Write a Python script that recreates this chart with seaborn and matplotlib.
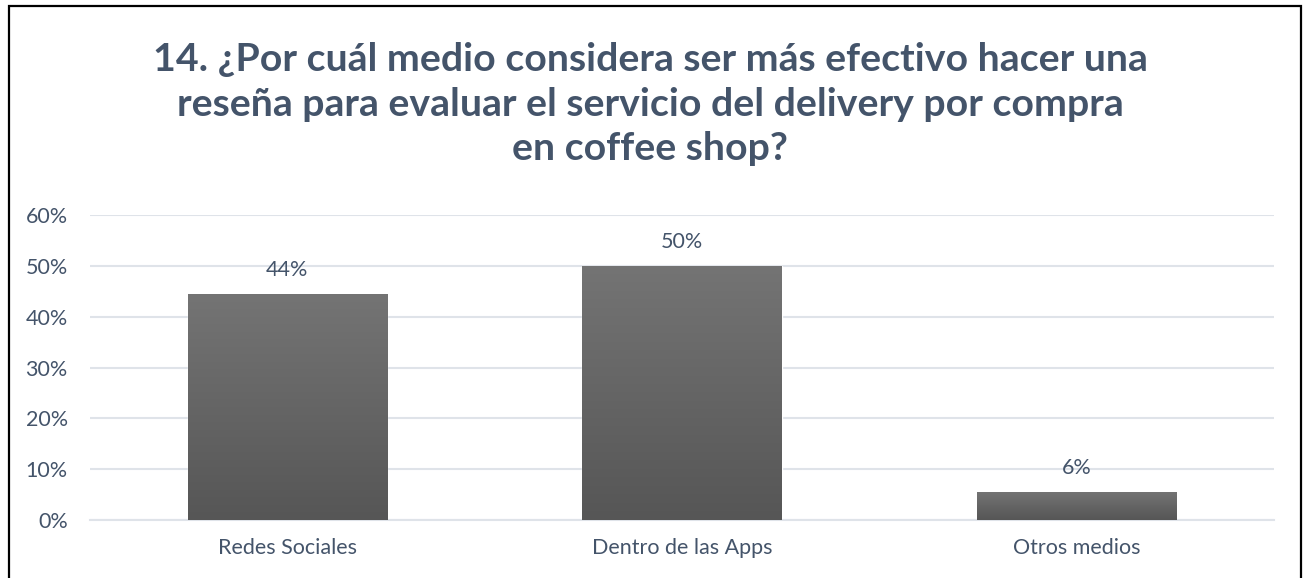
import matplotlib
matplotlib.use("Agg")
import matplotlib.pyplot as plt
import numpy as np
import pandas as pd
import seaborn as sns
from matplotlib.patches import Rectangle
from matplotlib.ticker import PercentFormatter, FixedLocator

# Survey answers (share of respondents)
categories = ["Redes Sociales", "Dentro de las Apps", "Otros medios"]
shares = [0.444, 0.500, 0.056]
y_ticks = [0.0, 0.1, 0.2, 0.3, 0.4, 0.5, 0.6]
title = ("14. ¿Por cuál medio considera ser más efectivo hacer una\n"
         "reseña para evaluar el servicio del delivery por compra\n"
         "en coffee shop?")

TEXT = "#44546A"
GRID = "#DFE3E9"
FONT = ["Lato", "DejaVu Sans"]

sns.set_theme(style="white")
plt.rcParams["font.family"] = FONT

W, H = 1303, 578
fig = plt.figure(figsize=(W / 100, H / 100), dpi=100)
ax = fig.add_axes([90 / W, 1 - 520 / H, (1274 - 90) / W, (520 - 215) / H])

df = pd.DataFrame({"medio": categories, "share": shares})
sns.barplot(data=df, x="medio", y="share", color="#666666", width=0.505,
            saturation=1, ax=ax, zorder=2)

ax.set_ylim(0, 0.6)
ax.set_xlim(-0.5, len(categories) - 0.5)
ax.yaxis.set_major_locator(FixedLocator(y_ticks))
ax.yaxis.set_major_formatter(PercentFormatter(1.0, decimals=0))
ax.grid(axis="y", color=GRID, linewidth=1.5, zorder=0)
ax.set_axisbelow(True)
for s in ax.spines.values():
    s.set_visible(False)
ax.spines["bottom"].set_visible(True)
ax.spines["bottom"].set_color(GRID)
ax.spines["bottom"].set_linewidth(1.5)
ax.set_xlabel("")
ax.set_ylabel("")
ax.tick_params(axis="y", colors=TEXT, labelsize=15.5, length=0, pad=16)
ax.tick_params(axis="x", colors=TEXT, labelsize=15.5, length=0, pad=13)

# vertical grey gradient inside each bar
grad = np.linspace(0, 1, 256).reshape(-1, 1)
top_c = np.array([0x74, 0x74, 0x74]) / 255
bot_c = np.array([0x56, 0x56, 0x56]) / 255
img = top_c[None, None, :] * (1 - grad[:, :, None]) + bot_c[None, None, :] * grad[:, :, None]
for p in ax.patches:
    x0, y0 = p.get_x(), p.get_y()
    w, h = p.get_width(), p.get_height()
    im = ax.imshow(img, extent=[x0, x0 + w, y0, y0 + h], aspect="auto",
                   origin="upper", zorder=3, interpolation="bilinear")
    im.set_clip_path(p)
ax.set_xlim(-0.5, len(categories) - 0.5)
ax.set_ylim(0, 0.6)

ax.bar_label(ax.containers[0], labels=[f"{v:.0%}" for v in shares],
             padding=10, color=TEXT, fontsize=15.5, zorder=4)

fig.text(650 / W, 1 - 104 / H, title, ha="center", va="center",
         fontsize=28.3, fontweight="bold", color=TEXT, linespacing=1.32)

# chart frame
fig.patches.append(Rectangle((8.5 / W, -0.05), (1301 - 8.5) / W, 1.05 - 6.5 / H,
                             transform=fig.transFigure, fill=False,
                             edgecolor="black", linewidth=1.6))

fig.savefig("out.png", dpi=100)
